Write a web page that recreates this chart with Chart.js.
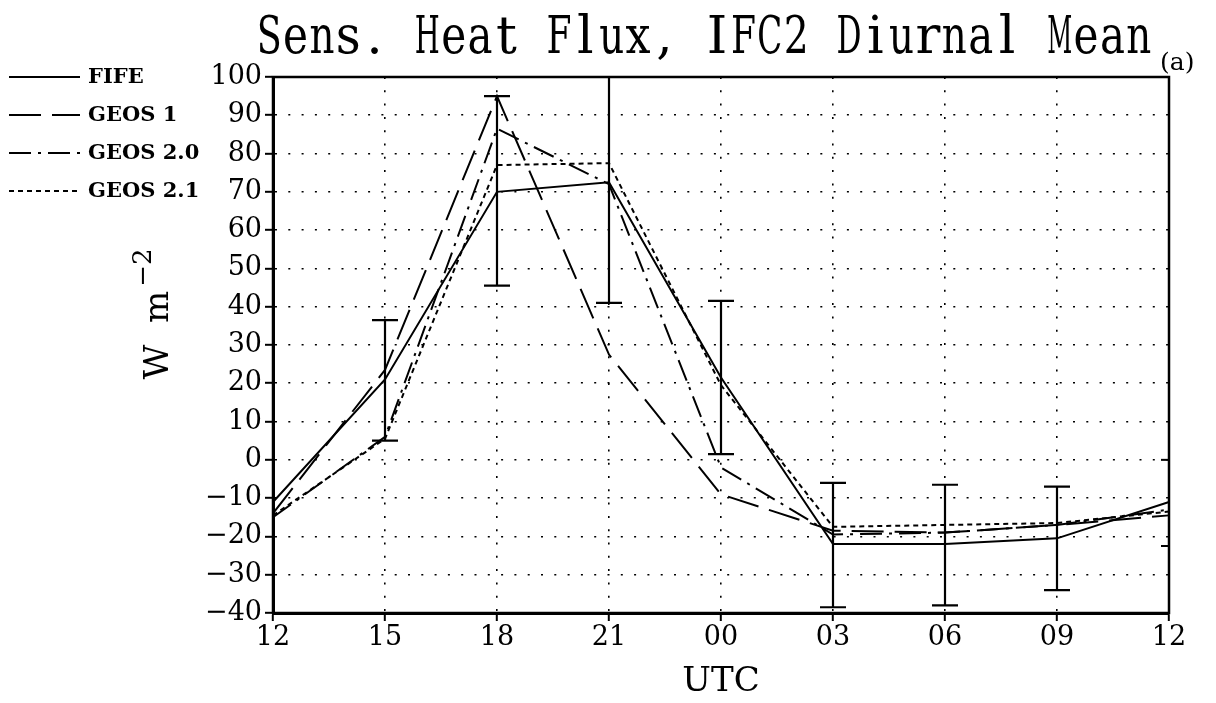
<!DOCTYPE html>
<html lang="en">
<head>
<meta charset="UTF-8">
<title>Sens. Heat Flux, IFC2 Diurnal Mean</title>
<script src="https://cdn.jsdelivr.net/npm/chart.js"></script>
<style>
  html, body { margin: 0; padding: 0; background: #fff; }
  canvas { display: block; }
</style>
</head>
<body>
<canvas id="fluxChart" width="1216" height="703"></canvas>
<script>
// UTC hour of each point, 12 -> 12 next day
var hours = ['12', '15', '18', '21', '00', '03', '06', '09', '12'];
var seriesNames = ['FIFE', 'GEOS 1', 'GEOS 2.0', 'GEOS 2.1'];
var fife   = [-11, 21, 70, 72.5, 21.5, -22, -22, -20.5, -11];
var geos1  = [-14, 23.5, 95, 27.5, -9, -18.5, -19, -17, -14.5];
var geos20 = [-15, 6, 86.5, 72, -2, -19.5, -19, -17, -13];
var geos21 = [-14.5, 5.5, 77, 77.5, 19.5, -17.5, -17, -16.5, -13.5];
// FIFE error bars (the 21 UTC one runs off the top of the frame)
var errLow  = [null, 5, 45.5, 41, 1.5, -38.5, -38, -34, null];
var errHigh = [null, 36.5, 95, 110, 41.5, -6, -6.5, -7, null];
var yMin = -40, yMax = 100, yStep = 10;

var titleText = 'Sens. Heat Flux, IFC2 Diurnal Mean';
var dashes = [[], [32, 11], [22, 7, 3, 7], [5, 4]];
var serif = 'DejaVu Serif';

function mkSet(name, data, i) {
    return {
        label: name,
        data: data,
        borderColor: '#000',
        borderWidth: 2,
        borderDash: dashes[i],
        pointRadius: 0,
        tension: 0,
        fill: false
    };
}

// typewriter-style title: every character gets the same cell width
function drawMonoText(ctx, text, x0, y, cell, maxW) {
    for (var i = 0; i < text.length; i++) {
        var ch = text[i];
        if (ch === ' ') continue;
        var w = ctx.measureText(ch).width;
        var sx = Math.min(1, maxW / w);
        ctx.save();
        ctx.translate(x0 + i * cell + cell / 2, y);
        ctx.scale(sx, 1);
        ctx.fillText(ch, -w / 2, 0);
        ctx.restore();
    }
}

var decor = {
    id: 'decor',
    afterDatasetsDraw: function(chart) {
        var ctx = chart.ctx, xs = chart.scales.x, ys = chart.scales.y, a = chart.chartArea;
        ctx.save();
        ctx.beginPath();
        ctx.rect(a.left, a.top, a.right - a.left, a.bottom - a.top);
        ctx.clip();
        ctx.strokeStyle = '#000';
        ctx.lineWidth = 2.2;
        ctx.setLineDash([]);
        for (var i = 0; i < hours.length; i++) {
            if (errLow[i] === null) continue;
            var px = xs.getPixelForValue(i);
            var lo = ys.getPixelForValue(errLow[i]);
            var hi = ys.getPixelForValue(errHigh[i]);
            ctx.beginPath();
            ctx.moveTo(px, lo); ctx.lineTo(px, hi);
            ctx.moveTo(px - 13, lo); ctx.lineTo(px + 13, lo);
            ctx.moveTo(px - 13, hi); ctx.lineTo(px + 13, hi);
            ctx.stroke();
        }
        ctx.restore();
    },
    afterDraw: function(chart) {
        var ctx = chart.ctx, a = chart.chartArea;
        ctx.save();
        ctx.strokeStyle = '#000';
        ctx.lineWidth = 2.5;
        ctx.setLineDash([]);
        ctx.strokeRect(a.left, a.top, a.right - a.left, a.bottom - a.top);

        // small inward ticks on the right edge
        var ys = chart.scales.y;
        ctx.lineWidth = 2;
        [0, -22.5].forEach(function(v) {
            var py = ys.getPixelForValue(v);
            ctx.beginPath();
            ctx.moveTo(a.right, py);
            ctx.lineTo(a.right - 8, py);
            ctx.stroke();
        });

        // title
        ctx.fillStyle = '#000';
        ctx.font = '52px "' + serif + '"';
        ctx.textBaseline = 'alphabetic';
        drawMonoText(ctx, titleText, 256, 53, 26.35, 25);
        ctx.font = '25px "' + serif + '"';
        ctx.fillText('(a)', 1160, 70);

        // legend
        ctx.font = 'bold 21px "' + serif + '"';
        ctx.textBaseline = 'middle';
        ctx.lineWidth = 2;
        chart.data.datasets.forEach(function(ds, i) {
            var yy = 77 + i * 38;
            ctx.setLineDash(dashes[i]);
            ctx.beginPath();
            ctx.moveTo(9, yy);
            ctx.lineTo(80, yy);
            ctx.stroke();
            ctx.fillText(ds.label, 88, yy + 1);
        });
        ctx.setLineDash([]);

        // y axis title W m^-2
        var big = '34px "' + serif + '"', small = '26px "' + serif + '"';
        ctx.font = big;
        var w1 = ctx.measureText('W  m').width;
        ctx.font = small;
        var w2 = ctx.measureText('\u22122').width;
        var total = w1 + 4 + w2;
        ctx.translate(168, 314 + total / 2);
        ctx.rotate(-Math.PI / 2);
        ctx.textBaseline = 'alphabetic';
        ctx.textAlign = 'left';
        ctx.font = big;
        ctx.fillText('W  m', 0, 0);
        ctx.font = small;
        ctx.fillText('\u22122', w1 + 4, -17);
        ctx.restore();
    }
};

var ctx = document.getElementById('fluxChart').getContext('2d');
var fluxChart = new Chart(ctx, {
    type: 'line',
    data: {
        labels: hours,
        datasets: [
            mkSet(seriesNames[0], fife, 0),
            mkSet(seriesNames[1], geos1, 1),
            mkSet(seriesNames[2], geos20, 2),
            mkSet(seriesNames[3], geos21, 3)
        ]
    },
    options: {
        responsive: false,
        animation: false,
        layout: { padding: { top: 77, right: 47, left: 0, bottom: 0 } },
        plugins: {
            legend: { display: false },
            tooltip: { enabled: false },
            title: { display: false }
        },
        scales: {
            x: {
                type: 'category',
                offset: false,
                ticks: {
                    color: '#000',
                    font: { family: serif, size: 27 },
                    padding: 1,
                    maxRotation: 0,
                    autoSkip: false
                },
                grid: { color: '#000', lineWidth: 1.6, tickLength: 8, tickWidth: 2, tickColor: '#000' },
                border: { display: true, color: '#000', width: 3, dash: [2, 11.3] },
                title: {
                    display: true,
                    text: 'UTC',
                    color: '#000',
                    font: { family: serif, size: 34 },
                    padding: { top: 2, bottom: 0 }
                },
                afterFit: function(s) { s.height = 90; }
            },
            y: {
                min: yMin,
                max: yMax,
                ticks: {
                    stepSize: yStep,
                    color: '#000',
                    font: { family: serif, size: 27 },
                    padding: 3,
                    callback: function(v) { return String(v).replace('-', '\u2212'); }
                },
                grid: { color: '#000', lineWidth: 1.6, tickLength: 8, tickWidth: 2, tickColor: '#000' },
                border: { display: true, color: '#000', width: 3, dash: [2, 11.3] },
                afterFit: function(s) { s.width = 273; }
            }
        }
    },
    plugins: [decor]
});
</script>
</body>
</html>
